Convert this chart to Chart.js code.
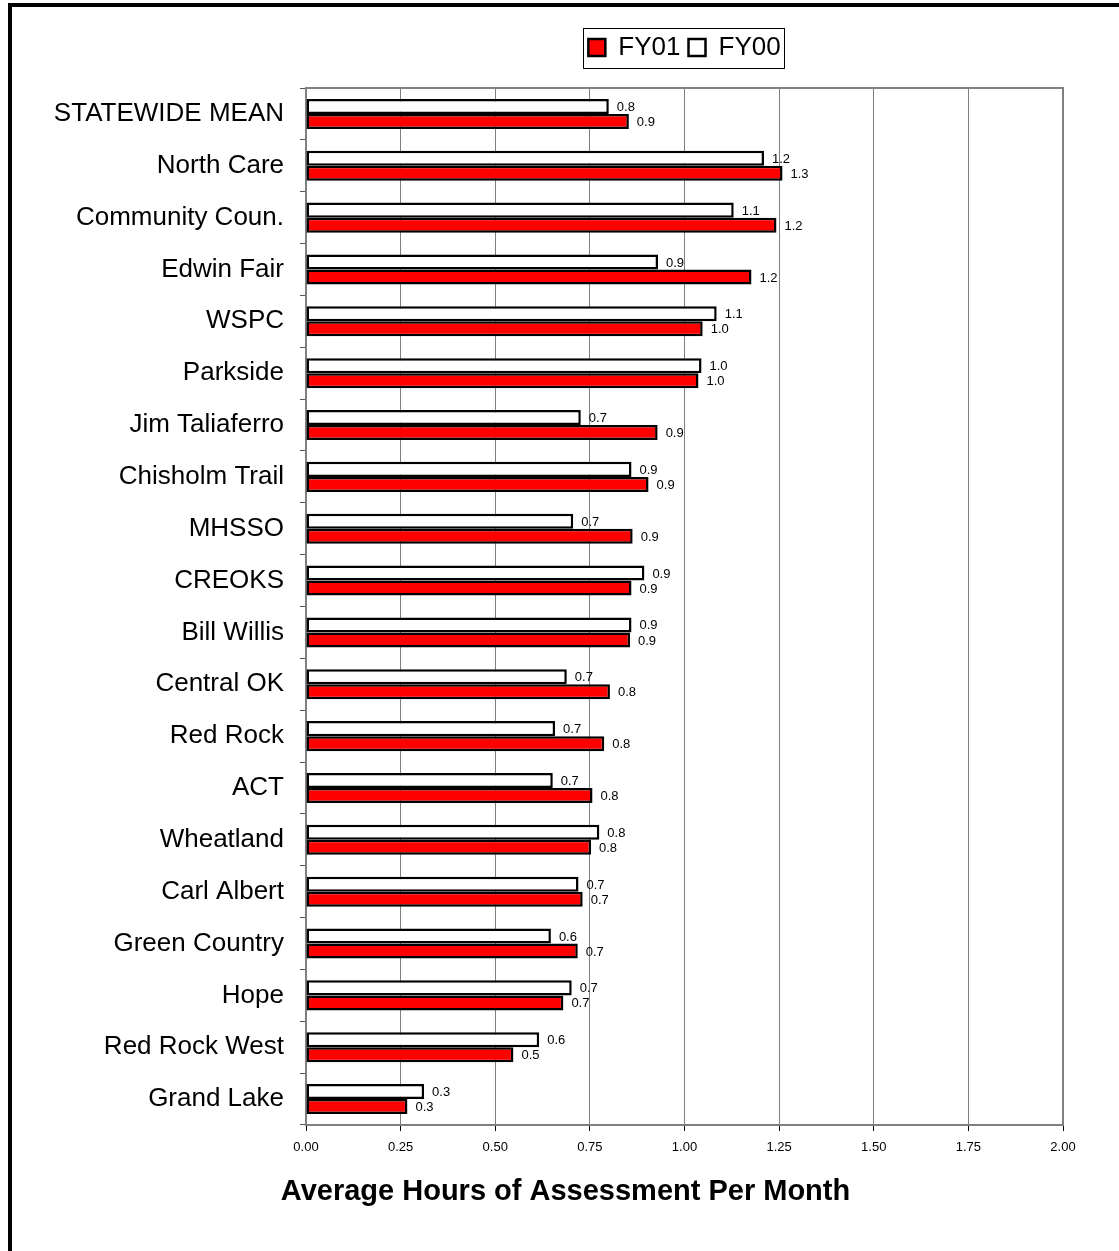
<!DOCTYPE html>
<html>
<head>
<meta charset="utf-8">
<script src="https://cdn.jsdelivr.net/npm/chart.js@4.4.1/dist/chart.umd.min.js"></script>
<style>
    body { margin: 0; background: #fff; overflow: hidden; }
    #frame { position: absolute; left: 8px; top: 3px; width: 1300px; height: 1400px; border: 4px solid #000; }
    #chart { position: absolute; left: 12px; top: 7px; }
</style>
</head>
<body>
<div id="frame"></div>
<canvas id="chart" width="1107" height="1244"></canvas>
<script>
// Datos
const centros = ['STATEWIDE MEAN', 'North Care', 'Community Coun.', 'Edwin Fair', 'WSPC', 'Parkside',
    'Jim Taliaferro', 'Chisholm Trail', 'MHSSO', 'CREOKS', 'Bill Willis', 'Central OK', 'Red Rock',
    'ACT', 'Wheatland', 'Carl Albert', 'Green Country', 'Hope', 'Red Rock West', 'Grand Lake'];
const fy00 = [0.80, 1.21, 1.13, 0.93, 1.085, 1.045, 0.726, 0.86, 0.706, 0.894, 0.86, 0.689, 0.658,
    0.652, 0.775, 0.72, 0.647, 0.702, 0.616, 0.312];
const fy01 = [0.853, 1.259, 1.243, 1.177, 1.048, 1.037, 0.929, 0.905, 0.863, 0.86, 0.856, 0.803, 0.788,
    0.757, 0.753, 0.731, 0.718, 0.68, 0.548, 0.268];
const ejeX = { min: 0, max: 2, paso: 0.25 };

const fuente = 'Arial, "Liberation Sans", sans-serif';

document.addEventListener('DOMContentLoaded', function() {
    // etiquetas de valor al final de cada barra
    const etiquetasValor = {
        id: 'etiquetasValor',
        afterDatasetsDraw(chart) {
            const ctx = chart.ctx;
            ctx.save();
            ctx.font = '13px ' + fuente;
            ctx.fillStyle = '#000';
            ctx.textBaseline = 'middle';
            ctx.textAlign = 'left';
            chart.data.datasets.forEach((ds, i) => {
                chart.getDatasetMeta(i).data.forEach((bar, j) => {
                    ctx.fillText(ds.data[j].toFixed(1), bar.x + 8, bar.y + 1);
                });
            });
            ctx.restore();
        }
    };

    // marco gris del área de trazado y recuadro de la leyenda
    const marcos = {
        id: 'marcos',
        beforeDatasetsDraw(chart) {
            const a = chart.chartArea;
            const ctx = chart.ctx;
            ctx.save();
            ctx.strokeStyle = '#808080';
            ctx.lineWidth = 2;
            ctx.strokeRect(a.left, a.top, a.right - a.left, a.bottom - a.top);
            ctx.restore();
        },
        afterDraw(chart) {
            const cajas = chart.legend.legendHitBoxes;
            if (!cajas || !cajas.length) return;
            const izq = Math.min(...cajas.map(c => c.left));
            const der = Math.max(...cajas.map(c => c.left + c.width));
            const arriba = cajas[0].top;
            const ctx = chart.ctx;
            ctx.save();
            ctx.strokeStyle = '#000';
            ctx.lineWidth = 1;
            ctx.strokeRect(Math.round(izq - 5) + 0.5, Math.round(arriba - 7) + 0.5,
                Math.round(der - izq + 9), 40);
            ctx.restore();
        }
    };

    const ctx = document.getElementById('chart').getContext('2d');
    new Chart(ctx, {
        type: 'bar',
        data: {
            labels: centros,
            datasets: [{
                label: 'FY00',
                data: fy00,
                backgroundColor: '#ffffff',
                borderColor: '#000000',
                borderWidth: 2.5,
                borderSkipped: false,
                categoryPercentage: 0.58,
                barPercentage: 1.0
            }, {
                label: 'FY01',
                data: fy01,
                backgroundColor: '#ff0000',
                borderColor: '#000000',
                borderWidth: 2.5,
                borderSkipped: false,
                categoryPercentage: 0.58,
                barPercentage: 1.0
            }]
        },
        options: {
            indexAxis: 'y',
            responsive: false,
            animation: false,
            devicePixelRatio: 1,
            layout: { padding: { top: 19.5, right: 0, bottom: 0, left: 0 } },
            scales: {
                x: {
                    min: ejeX.min,
                    max: ejeX.max,
                    position: 'bottom',
                    afterFit: s => { s.height = 30; },
                    ticks: {
                        stepSize: ejeX.paso,
                        callback: v => Number(v).toFixed(2),
                        color: '#000',
                        font: { family: fuente, size: 13 },
                        padding: 9,
                        maxRotation: 0
                    },
                    grid: { color: '#808080', lineWidth: 1, tickLength: 6, tickColor: '#000' },
                    border: { color: '#000', width: 2 }
                },
                hueco: {
                    type: 'linear',
                    axis: 'x',
                    position: 'top',
                    afterFit: s => { s.height = 17.5; },
                    ticks: { display: false },
                    grid: { display: false },
                    border: { display: false }
                },
                y: {
                    afterFit: s => { s.width = 294; },
                    ticks: {
                        color: '#000',
                        font: { family: fuente, size: 26 },
                        padding: 16
                    },
                    grid: { offset: true, drawOnChartArea: false, tickLength: 6, color: '#555' },
                    border: { color: '#000', width: 2 }
                },
                huecoDer: {
                    type: 'linear',
                    axis: 'y',
                    position: 'right',
                    afterFit: s => { s.width = 56; },
                    ticks: { display: false },
                    grid: { display: false },
                    border: { display: false }
                }
            },
            plugins: {
                legend: {
                    position: 'top',
                    fullSize: false,
                    reverse: true,
                    labels: {
                        color: '#000',
                        font: { family: fuente, size: 26 },
                        boxWidth: 17,
                        boxHeight: 17,
                        padding: 8
                    }
                },
                title: {
                    display: true,
                    position: 'bottom',
                    text: 'Average Hours of Assessment Per Month',
                    color: '#000',
                    font: { family: fuente, size: 29, weight: 'bold' },
                    padding: { top: 19.6, bottom: 41.6 }
                },
                tooltip: { enabled: false }
            }
        },
        plugins: [etiquetasValor, marcos]
    });
});
</script>
</body>
</html>
